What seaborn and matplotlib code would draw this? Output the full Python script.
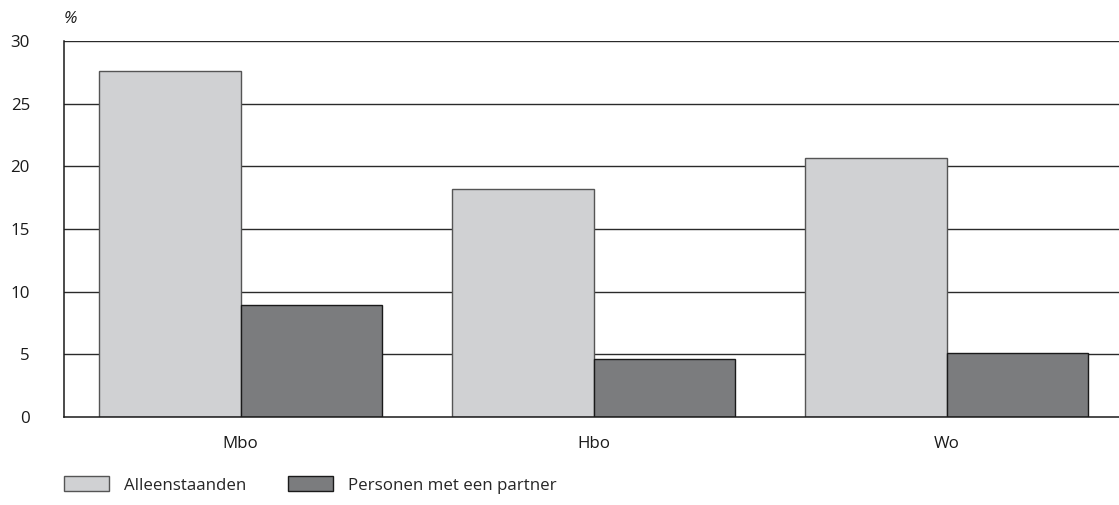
import matplotlib
matplotlib.use("Agg")
import matplotlib.pyplot as plt
import seaborn as sns
import pandas as pd
from matplotlib.patches import Patch

categories = ["Mbo", "Hbo", "Wo"]
series_names = ["Alleenstaanden", "Personen met een partner"]
alleenstaanden = [27.6, 18.2, 20.7]
partner = [8.9, 4.6, 5.1]
yticks = [0, 5, 10, 15, 20, 25, 30]

colors = ["#d0d1d3", "#7b7c7e"]
edges = ["#555555", "#1a1a1a"]

df = pd.DataFrame({
    "cat": categories * 2,
    "serie": [series_names[0]] * 3 + [series_names[1]] * 3,
    "val": alleenstaanden + partner,
})

sns.set_theme(style="white")
plt.rcParams["font.family"] = ["Open Sans", "DejaVu Sans"]

FS = 12.2
W, H = 1119, 505
fig = plt.figure(figsize=(W / 100, H / 100), dpi=100)
ax = fig.add_axes([64 / W, (H - 417) / H, 1059 / W, 376 / H])

ax.set_axisbelow(True)
for t in yticks[1:]:
    ax.axhline(t, color="#2a2a2a", lw=1.0, zorder=0)

sns.barplot(data=df, x="cat", y="val", hue="serie", palette=colors,
            width=0.8, dodge=True, saturation=1, ax=ax, legend=False, zorder=2)

n = len(categories)
for i, p in enumerate(ax.patches[:2 * n]):
    s = i // n
    p.set_edgecolor(edges[s])
    p.set_linewidth(1.0)

ax.set_xlim(-0.5, 2.5)
ax.set_ylim(0, 30)
ax.set_yticks(yticks)
ax.set_xlabel("")
ax.set_ylabel("")
ax.tick_params(axis="both", length=0, labelsize=FS, colors="#1a1a1a")
ax.tick_params(axis="y", pad=24.5)
ax.tick_params(axis="x", pad=13.5)
for lab in ax.get_yticklabels():
    lab.set_horizontalalignment("right")

for side in ["top", "right"]:
    ax.spines[side].set_visible(False)
ax.spines["left"].set_color("#1a1a1a")
ax.spines["left"].set_linewidth(1.1)
ax.spines["bottom"].set_color("#1a1a1a")
ax.spines["bottom"].set_linewidth(1.1)

fig.text(64 / W, (H - 19) / H, "%", fontsize=FS, style="italic",
         va="center", ha="left", color="#1a1a1a")

handles = [Patch(facecolor=colors[0], edgecolor=edges[0], lw=1.0),
           Patch(facecolor=colors[1], edgecolor=edges[1], lw=1.0)]
fig.legend(handles, series_names, loc="center left",
           bbox_to_anchor=(64 / W, (H - 485) / H), ncol=2, frameon=False,
           fontsize=FS, handlelength=2.65, handleheight=1.0,
           handletextpad=0.87, columnspacing=2.5, borderaxespad=0,
           borderpad=0)

fig.savefig("out.png", dpi=100, facecolor="white")
